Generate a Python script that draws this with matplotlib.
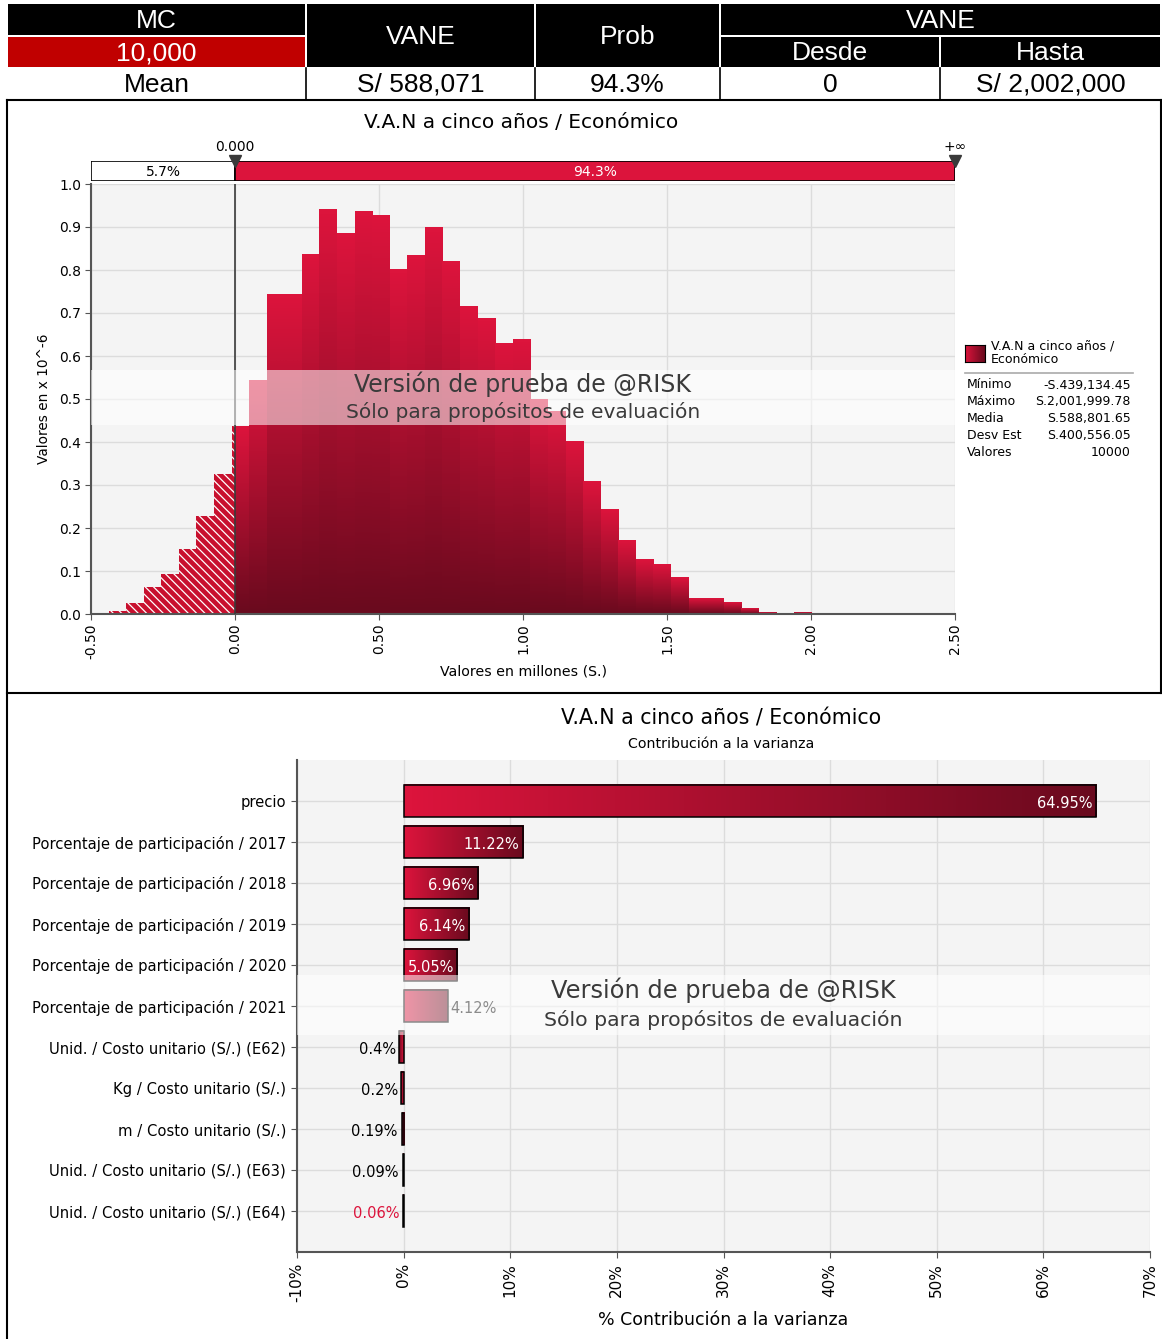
import numpy as np
import matplotlib
matplotlib.use("Agg")
import matplotlib.pyplot as plt
from matplotlib.patches import Rectangle
from matplotlib.colors import LinearSegmentedColormap

plt.rcParams['font.family'] = ['DejaVu Sans']
plt.rcParams['hatch.linewidth'] = 0.9

W, H, DPI = 1162, 1339, 100

# ---------------- data ----------------
header_top = ["MC", "VANE", "Prob", "VANE"]
header_sub = ["10,000", "Desde", "Hasta"]
summary_row = ["Mean", "S/ 588,071", "94.3%", "0", "S/ 2,002,000"]

chart_title = "V.A.N a cinco años / Económico"

# simulated NPV distribution (millions of S.), density in 1e-6 units
hist_min = -0.43913445
hist_max = 2.00199978
hist_density = [0.007, 0.026, 0.062, 0.093, 0.151, 0.228, 0.326, 0.437,
                0.544, 0.742, 0.742, 0.835, 0.940, 0.884, 0.935, 0.926,
                0.800, 0.833, 0.899, 0.819, 0.716, 0.688, 0.628, 0.639,
                0.498, 0.470, 0.402, 0.309, 0.244, 0.170, 0.126, 0.114,
                0.084, 0.037, 0.035, 0.026, 0.012, 0.004, 0.002, 0.004]
split_value = 0.0
split_label = "0.000"
prob_below = "5.7%"
prob_above = "94.3%"

stats_labels = ["Mínimo", "Máximo", "Media", "Desv Est", "Valores"]
stats_values = ["-S.439,134.45", "S.2,001,999.78", "S.588,801.65",
                "S.400,556.05", "10000"]

tornado_labels = ["precio",
                  "Porcentaje de participación / 2017",
                  "Porcentaje de participación / 2018",
                  "Porcentaje de participación / 2019",
                  "Porcentaje de participación / 2020",
                  "Porcentaje de participación / 2021",
                  "Unid. / Costo unitario (S/.) (E62)",
                  "Kg / Costo unitario (S/.)",
                  "m / Costo unitario (S/.)",
                  "Unid. / Costo unitario (S/.) (E63)",
                  "Unid. / Costo unitario (S/.) (E64)"]
tornado_values = [64.95, 11.22, 6.96, 6.14, 5.05, 4.12,
                  -0.40, -0.20, -0.19, -0.09, -0.06]
tornado_ticks = [-10, 0, 10, 20, 30, 40, 50, 60, 70]

# ---------------- style ----------------
CRIMSON = '#DC143C'
DARK = '#6A0A1E'
RED_CELL = '#C00000'
PANEL_BG = '#F4F4F4'
GRID = '#DCDCDC'
grad_cmap = LinearSegmentedColormap.from_list('crim', [DARK, CRIMSON])
wm_line1 = "Versión de prueba de @RISK"
wm_line2 = "Sólo para propósitos de evaluación"

fig = plt.figure(figsize=(W / DPI, H / DPI), dpi=DPI)
fig.patch.set_facecolor('white')

# overlay in pixel coordinates for the table, frames and free text
ov = fig.add_axes([0, 0, 1, 1])
ov.set_xlim(0, W)
ov.set_ylim(H, 0)
ov.axis('off')


def fax(x0, y0, x1, y1):
    return fig.add_axes([x0 / W, 1 - y1 / H, (x1 - x0) / W, (y1 - y0) / H])


# ---------------- header table ----------------
col_x = [7, 306, 535, 720, 940, 1161]
row_y = [3, 36, 68, 99]
hfont = dict(family=['Liberation Sans', 'DejaVu Sans'], fontsize=19)


def cell(c0, c1, r0, r1, text, face, color='white'):
    x0, x1 = col_x[c0], col_x[c1]
    y0, y1 = row_y[r0], row_y[r1]
    ov.add_patch(Rectangle((x0 + 1, y0 + 1), x1 - x0 - 2, y1 - y0 - 2,
                           facecolor=face, edgecolor='none'))
    ov.text((x0 + x1) / 2, (y0 + y1) / 2 + 1, text, ha='center', va='center',
            color=color, **hfont)


cell(0, 1, 0, 1, header_top[0], 'black')
cell(0, 1, 1, 2, header_sub[0], RED_CELL)
cell(1, 2, 0, 2, header_top[1], 'black')
cell(2, 3, 0, 2, header_top[2], 'black')
cell(3, 5, 0, 1, header_top[3], 'black')
cell(3, 4, 1, 2, header_sub[1], 'black')
cell(4, 5, 1, 2, header_sub[2], 'black')
for i, txt in enumerate(summary_row):
    ov.text((col_x[i] + col_x[i + 1]) / 2, (row_y[2] + row_y[3]) / 2 + 1, txt,
            ha='center', va='center', color='black', **hfont)
for x in col_x[1:-1]:
    ov.plot([x, x], [row_y[2], row_y[3]], color='black', lw=1.2)

# panel frames
ov.plot([7, 1161], [99.5, 99.5], color='black', lw=1.5)
ov.plot([7, 7], [99.5, H], color='black', lw=1.5)
ov.plot([1161, 1161], [99.5, 693], color='black', lw=1.5)
ov.plot([7, 1161], [693, 693], color='black', lw=1.5)

# ---------------- histogram ----------------
ov.text(521, 123, chart_title, ha='center', va='center', fontsize=14.5)

ax1 = fax(91, 184, 955, 614)
ax1.set_facecolor(PANEL_BG)
edges = np.linspace(hist_min, hist_max, len(hist_density) + 1)
vgrad = np.linspace(0, 1, 64).reshape(-1, 1)
for left, right, h in zip(edges[:-1], edges[1:], hist_density):
    if left < split_value:
        hr = min(right, split_value)
        ax1.add_patch(Rectangle((left, 0), hr - left, h, facecolor='#C8102E',
                                edgecolor='white', linewidth=0,
                                hatch='\\\\\\\\', zorder=2))
    if right > split_value:
        l2 = max(left, split_value)
        ax1.imshow(vgrad, extent=[l2, right, 0, h], origin='lower',
                   cmap=grad_cmap, aspect='auto', interpolation='bilinear',
                   zorder=2)
ax1.set_xlim(-0.5, 2.5)
ax1.set_ylim(0, 1.0)
ax1.set_xticks(np.arange(-0.5, 2.51, 0.5))
ax1.set_xticklabels([f"{v:.2f}" for v in np.arange(-0.5, 2.51, 0.5)],
                    rotation=90, fontsize=10)
ax1.set_yticks(np.arange(0, 1.01, 0.1))
ax1.set_yticklabels([f"{v:.1f}" for v in np.arange(0, 1.01, 0.1)], fontsize=10)
ax1.grid(True, color=GRID, lw=1, zorder=0)
ax1.set_axisbelow(True)
for s in ['top', 'right']:
    ax1.spines[s].set_visible(False)
for s in ['left', 'bottom']:
    ax1.spines[s].set_color('#555555')
    ax1.spines[s].set_linewidth(1.5)
ax1.tick_params(length=4, color='#555555', pad=3)
ax1.axvline(split_value, color='#3a3a3a', lw=1.2, zorder=5)
ax1.set_xlabel("Valores en millones (S.)", fontsize=10.2, labelpad=4)
ax1.set_ylabel("Valores en x 10^-6", fontsize=9.8, labelpad=6)
ax1.axhspan(0.44, 0.567, color='white', alpha=0.55, zorder=6, lw=0)
ax1.text(1.0, 0.534, wm_line1, ha='center', va='center', fontsize=17,
         color='#3a3a3a', zorder=7)
ax1.text(1.0, 0.470, wm_line2, ha='center', va='center', fontsize=14.5,
         color='#3a3a3a', zorder=7)

# probability band above the histogram
axp = fax(91, 161, 955, 181)
axp.set_xlim(-0.5, 2.5)
axp.set_ylim(0, 1)
axp.axis('off')
axp.add_patch(Rectangle((-0.5, 0), split_value + 0.5, 1, facecolor='white',
                        edgecolor='black', lw=1.2))
axp.add_patch(Rectangle((split_value, 0), 2.5 - split_value, 1,
                        facecolor=CRIMSON, edgecolor='black', lw=1.2))
axp.text((-0.5 + split_value) / 2, 0.45, prob_below, ha='center', va='center',
         fontsize=10)
axp.text((split_value + 2.5) / 2, 0.45, prob_above, ha='center', va='center',
         fontsize=10, color='white')
for xv, lab in [(split_value, split_label), (2.5, "+∞")]:
    axp.plot([xv], [1.0], marker='v', ms=8, color='#3a3a3a', clip_on=False)
    axp.annotate(lab, (xv, 1.0), xytext=(0, 5), textcoords='offset points',
                 ha='center', va='bottom', fontsize=10)

# legend / statistics box
leg = fax(965, 345, 985, 362)
leg.imshow(np.linspace(0, 1, 32).reshape(1, -1)[:, ::-1],
           cmap=grad_cmap, aspect='auto', extent=[0, 1, 0, 1])
leg.set_xticks([])
leg.set_yticks([])
for s in leg.spines.values():
    s.set_color('black')
ov.text(991, 353, chart_title.replace(" / ", " /\n", 1).replace("/\n", "/ \n"),
        ha='left', va='center', fontsize=9, linespacing=1.05)
ov.plot([965, 1133], [373, 373], color='#AAAAAA', lw=1.2)
for i, (lab, val) in enumerate(zip(stats_labels, stats_values)):
    y = 385 + i * 16.8
    ov.text(967, y, lab, ha='left', va='center', fontsize=9)
    ov.text(1131, y, val, ha='right', va='center', fontsize=9)

# ---------------- tornado (contribution to variance) ----------------
ov.text(721, 718, chart_title, ha='center', va='center', fontsize=14.8)
ov.text(721, 744, "Contribución a la varianza", ha='center', va='center',
        fontsize=10.2)

ax2 = fax(297, 760, 1150, 1252)
ax2.set_facecolor(PANEL_BG)
hgrad = np.linspace(1, 0, 64).reshape(1, -1)
bar_h = 0.8
for i, v in enumerate(tornado_values):
    x0, x1 = min(0, v), max(0, v)
    if v > 0:
        g = hgrad
    else:
        g = hgrad[:, ::-1]
    ax2.imshow(g, extent=[x0, x1, i + bar_h / 2, i - bar_h / 2], cmap=grad_cmap,
               aspect='auto', interpolation='bilinear', zorder=3)
    ax2.add_patch(Rectangle((x0, i - bar_h / 2), x1 - x0, bar_h,
                            facecolor='none', edgecolor='black', lw=1.1,
                            zorder=4))
    lab = f"{abs(v):g}%"
    if v >= 5:
        ax2.text(v - 0.35, i + 0.05, lab, ha='right', va='center',
                 color='white', fontsize=10.5, zorder=5)
    elif v > 0:
        ax2.text(v + 0.3, i + 0.05, lab, ha='left', va='center',
                 color='black', fontsize=10.5, zorder=5)
    else:
        col = CRIMSON if abs(v) < 0.08 else 'black'
        ax2.text(v - 0.35, i + 0.05, lab, ha='right', va='center', color=col,
                 fontsize=10.5, zorder=5)
ax2.set_xlim(tornado_ticks[0], tornado_ticks[-1])
ax2.set_ylim(len(tornado_values), -1)
ax2.set_xticks(tornado_ticks)
ax2.set_xticklabels([f"{t}%" for t in tornado_ticks], rotation=90, fontsize=11)
ax2.set_yticks(range(len(tornado_labels)))
ax2.set_yticklabels(tornado_labels, fontsize=10.6)
ax2.grid(True, color=GRID, lw=1, zorder=0)
ax2.set_axisbelow(True)
for s in ['top', 'right']:
    ax2.spines[s].set_visible(False)
for s in ['left', 'bottom']:
    ax2.spines[s].set_color('#555555')
    ax2.spines[s].set_linewidth(1.5)
ax2.tick_params(length=4, color='#555555', pad=4)
ax2.set_xlabel("% Contribución a la varianza", fontsize=12.5, labelpad=6)
ax2.axhspan(4.24, 5.71, color='white', alpha=0.55, zorder=6, lw=0)
ax2.text(30.0, 4.62, wm_line1, ha='center', va='center', fontsize=17.4,
         color='#3a3a3a', zorder=7)
ax2.text(30.0, 5.34, wm_line2, ha='center', va='center', fontsize=14.7,
         color='#3a3a3a', zorder=7)

fig.savefig("out.png", dpi=DPI, facecolor='white')
